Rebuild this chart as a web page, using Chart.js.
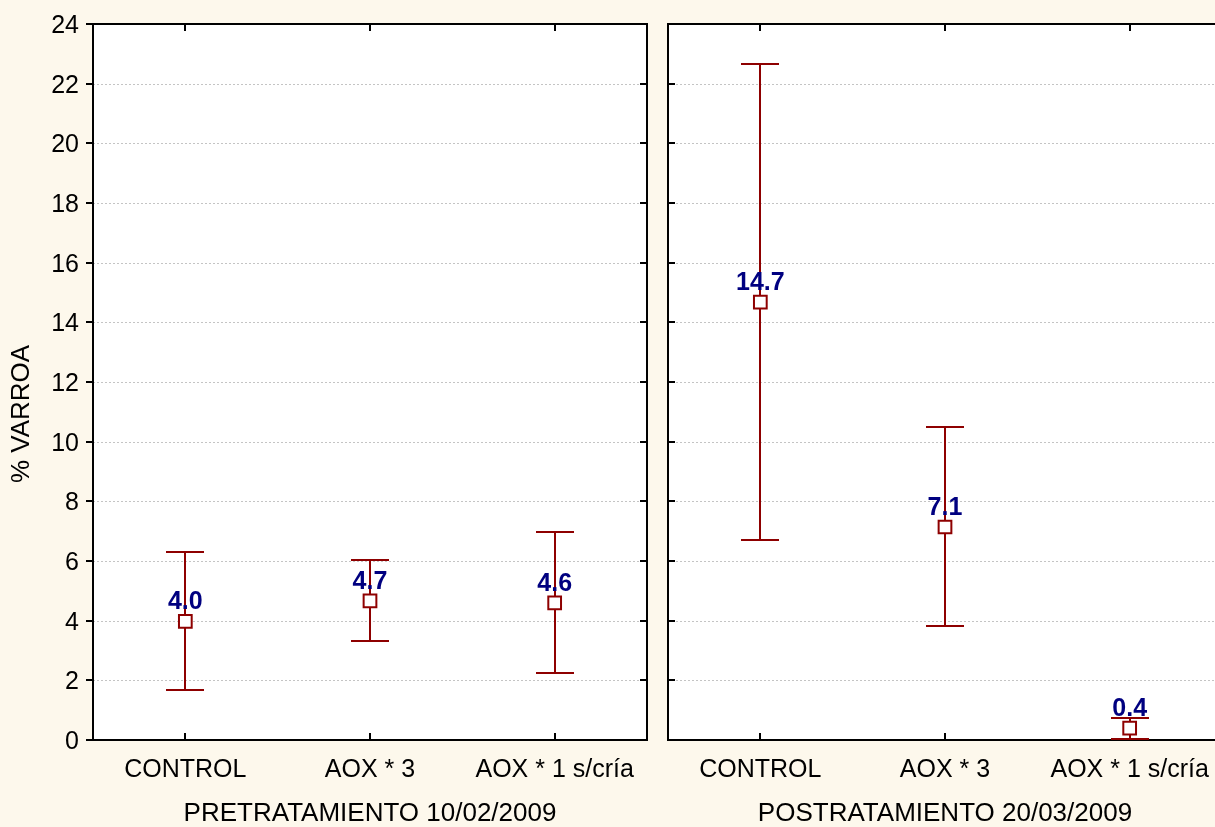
<!DOCTYPE html>
<html>
<head>
<meta charset="utf-8">
<script src="https://cdn.jsdelivr.net/npm/chart.js@4.4.1/dist/chart.umd.min.js"></script>
<style>
  html, body { margin:0; padding:0; background:#FDF8EC; }
  #wrap { position:relative; width:1215px; height:827px; overflow:hidden; background:#FDF8EC; }
  #c1 { position:absolute; left:0; top:0; }
  #c2 { position:absolute; left:656px; top:0; }
</style>
</head>
<body>
<div id="wrap">
  <canvas id="c1" width="660" height="827" style="width:660px;height:827px"></canvas>
  <canvas id="c2" width="580" height="827" style="width:580px;height:827px"></canvas>
</div>
<script>
const categories = ['CONTROL', 'AOX * 3', 'AOX * 1 s/cría'];
const groupTitles = ['PRETRATAMIENTO 10/02/2009', 'POSTRATAMIENTO 20/03/2009'];
const yAxisTitle = '% VARROA';
const yMin = 0, yMax = 24, yStep = 2;

const preMean   = [3.98, 4.66, 4.60];
const preUpper  = [6.30, 6.03, 6.97];
const preLower  = [1.67, 3.32, 2.25];
const preLabels = ['4.0', '4.7', '4.6'];

const postMean   = [14.68, 7.14, 0.40];
const postUpper  = [22.66, 10.49, 0.74];
const postLower  = [6.70, 3.82, 0.03];
const postLabels = ['14.7', '7.1', '0.4'];

const FONT = '"Liberation Sans", Arial, sans-serif';
const RED = '#8E0000';
const NAVY = '#000080';

function panelPlugin(isLeft, upper, lower, labels) {
  return {
    id: 'panel' + (isLeft ? 'L' : 'R'),
    beforeDatasetsDraw(chart) {
      const {ctx, chartArea: a, scales: {x, y}} = chart;
      ctx.save();
      ctx.fillStyle = '#FFFFFF';
      ctx.fillRect(a.left, a.top, a.right - a.left, a.bottom - a.top);
      // dotted grid
      ctx.strokeStyle = '#C4C4C4';
      ctx.lineWidth = 1;
      ctx.setLineDash([2, 2]);
      y.ticks.forEach(t => {
        if (t.value <= yMin || t.value >= yMax) return;
        const py = Math.round(y.getPixelForValue(t.value)) + 0.5;
        ctx.beginPath(); ctx.moveTo(a.left, py); ctx.lineTo(a.right, py); ctx.stroke();
      });
      ctx.setLineDash([]);
      // frame
      ctx.strokeStyle = '#000';
      ctx.lineWidth = 2;
      ctx.strokeRect(a.left, a.top, a.right - a.left, a.bottom - a.top);
      // y ticks
      y.ticks.forEach(t => {
        const py = Math.round(y.getPixelForValue(t.value));
        ctx.beginPath();
        if (isLeft) {
          ctx.moveTo(a.left - 7, py); ctx.lineTo(a.left, py);
          ctx.moveTo(a.right - 7, py); ctx.lineTo(a.right, py);
        } else {
          ctx.moveTo(a.left, py); ctx.lineTo(a.left + 7, py);
        }
        ctx.stroke();
      });
      // x ticks (inward, top and bottom)
      categories.forEach((c, i) => {
        const px = Math.round(x.getPixelForValue(i));
        ctx.beginPath();
        ctx.moveTo(px, a.top); ctx.lineTo(px, a.top + 7);
        ctx.moveTo(px, a.bottom); ctx.lineTo(px, a.bottom - 7);
        ctx.stroke();
      });
      // error bars
      ctx.strokeStyle = RED;
      ctx.lineWidth = 2;
      upper.forEach((u, i) => {
        const px = Math.round(x.getPixelForValue(i));
        const yu = Math.round(y.getPixelForValue(u));
        const yl = Math.round(y.getPixelForValue(lower[i]));
        ctx.beginPath();
        ctx.moveTo(px, yu); ctx.lineTo(px, yl);
        ctx.moveTo(px - 19, yu); ctx.lineTo(px + 19, yu);
        ctx.moveTo(px - 19, yl); ctx.lineTo(px + 19, yl);
        ctx.stroke();
      });
      ctx.restore();
    },
    afterDatasetsDraw(chart) {
      const {ctx} = chart;
      const meta = chart.getDatasetMeta(0);
      ctx.save();
      ctx.fillStyle = NAVY;
      ctx.font = 'bold 25px ' + FONT;
      ctx.textAlign = 'center';
      ctx.textBaseline = 'alphabetic';
      meta.data.forEach((pt, i) => {
        ctx.fillText(labels[i], pt.x, pt.y - 12);
      });
      if (isLeft) {
        ctx.fillStyle = '#000';
        ctx.font = '26px ' + FONT;
        ctx.translate(22, 414);
        ctx.rotate(-Math.PI / 2);
        ctx.textBaseline = 'middle';
        ctx.fillText(yAxisTitle, 0, 0);
      }
      ctx.restore();
    }
  };
}

function makeChart(id, isLeft, means, upper, lower, labels, title) {
  return new Chart(document.getElementById(id), {
    type: 'line',
    data: {
      labels: categories,
      datasets: [{
        data: means,
        showLine: false,
        pointStyle: 'rect',
        pointRadius: 9,
        pointHoverRadius: 9,
        pointBorderWidth: 2,
        pointBackgroundColor: '#FFFFFF',
        pointBorderColor: RED
      }]
    },
    options: {
      responsive: false,
      animation: false,
      events: [],
      layout: { padding: isLeft ? { left: 0, right: 13, top: 24, bottom: 0 } : { left: 12, right: 14, top: 24, bottom: 0 } },
      plugins: { legend: { display: false }, tooltip: { enabled: false } },
      scales: {
        x: {
          type: 'category',
          offset: true,
          grid: { display: false, drawTicks: false },
          border: { display: false },
          ticks: { color: '#000', font: { family: FONT, size: 25 }, padding: 15, maxRotation: 0, autoSkip: false },
          title: { display: true, text: title, color: '#000', font: { family: FONT, size: 26 }, padding: { top: 0, bottom: -2 } },
          afterFit(scale) { scale.height = 87; scale.paddingLeft = 0; scale.paddingRight = 0; }
        },
        y: {
          display: isLeft,
          min: yMin, max: yMax,
          grid: { display: false, drawTicks: false },
          border: { display: false },
          ticks: { stepSize: yStep, color: '#000', font: { family: FONT, size: 25 }, padding: 14, labelOffset: 2 },
          afterFit(scale) { scale.width = isLeft ? 93 : 0; scale.paddingTop = 0; scale.paddingBottom = 0; }
        }
      }
    },
    plugins: [panelPlugin(isLeft, upper, lower, labels)]
  });
}

makeChart('c1', true, preMean, preUpper, preLower, preLabels, groupTitles[0]);
makeChart('c2', false, postMean, postUpper, postLower, postLabels, groupTitles[1]);
</script>
</body>
</html>
